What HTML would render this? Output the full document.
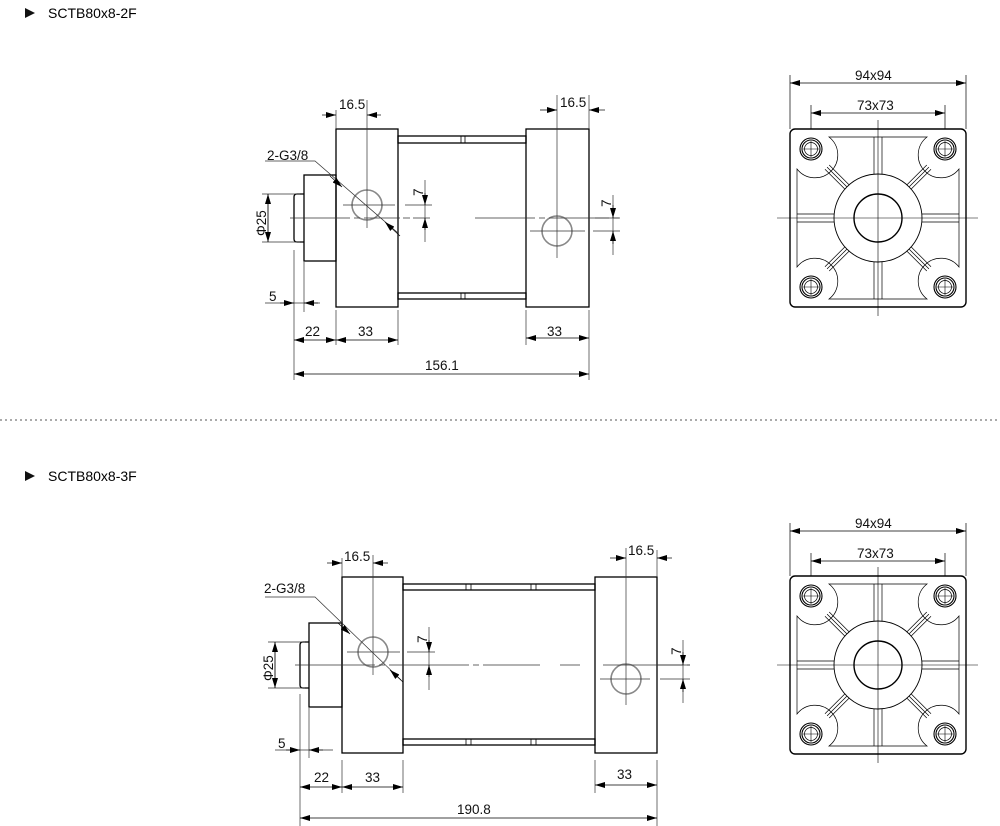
<!DOCTYPE html>
<html><head><meta charset="utf-8"><style>
html,body{margin:0;padding:0;background:#fff;}
svg{display:block;font-family:"Liberation Sans",sans-serif;}
</style></head><body>
<svg width="1000" height="826" viewBox="0 0 1000 826" xmlns="http://www.w3.org/2000/svg">
<defs>
<marker id="a" markerWidth="10" markerHeight="6" refX="10" refY="3" orient="auto-start-reverse" markerUnits="userSpaceOnUse"><path d="M0,0 L10,3 L0,6 Z" fill="#000"/></marker>
<g id="sq" fill="none" stroke="#000">
  <rect x="-88" y="-89" width="176" height="178" rx="5" stroke-width="1.4"/>
  <path d="M-49,-81 L49,-81 A22.8 22.8 0 1 0 81,-49 L81,49 A22.8 22.8 0 1 0 49,81 L-49,81 A22.8 22.8 0 1 0 -81,49 L-81,-49 A22.8 22.8 0 1 0 -49,-81 Z" stroke-width="0.7"/>
  <circle r="44" stroke-width="0.9"/>
  <circle r="24" stroke-width="1.4"/>
  <g stroke-width="0.7">
    <path d="M44,-4 L81,-4 M44,4 L81,4 M-44,-4 L-81,-4 M-44,4 L-81,4 M-4,44 L-4,81 M4,44 L4,81 M-4,-44 L-4,-81 M4,-44 L4,-81"/>
    <g transform="rotate(45)"><path d="M44,-3 L72,-3 M44,3 L72,3 M44,0 L72,0"/></g>
    <g transform="rotate(135)"><path d="M44,-3 L72,-3 M44,3 L72,3 M44,0 L72,0"/></g>
    <g transform="rotate(225)"><path d="M44,-3 L72,-3 M44,3 L72,3 M44,0 L72,0"/></g>
    <g transform="rotate(315)"><path d="M44,-3 L72,-3 M44,3 L72,3 M44,0 L72,0"/></g>
  </g>
  <g stroke-width="1.1">
    <circle cx="-67" cy="-69" r="11"/><circle cx="-67" cy="-69" r="9"/><circle cx="-67" cy="-69" r="6.5" stroke-width="0.7"/>
    <circle cx="67" cy="-69" r="11"/><circle cx="67" cy="-69" r="9"/><circle cx="67" cy="-69" r="6.5" stroke-width="0.7"/>
    <circle cx="-67" cy="69" r="11"/><circle cx="-67" cy="69" r="9"/><circle cx="-67" cy="69" r="6.5" stroke-width="0.7"/>
    <circle cx="67" cy="69" r="11"/><circle cx="67" cy="69" r="9"/><circle cx="67" cy="69" r="6.5" stroke-width="0.7"/>
  </g>
  <g stroke-width="0.6">
    <path d="M-101,0 L100,0 M0,-98 L0,98 M-8,0 L8,0"/>
    <path d="M-75,-69 L-59,-69 M-67,-77 L-67,-61 M59,-69 L75,-69 M67,-77 L67,-61 M-75,69 L-59,69 M-67,61 L-67,77 M59,69 L75,69 M67,61 L67,77"/>
  </g>
</g>
</defs>

<!-- titles -->
<path d="M25,8 L35,13 L25,18 Z" fill="#111"/>
<text x="48" y="18" font-size="14">SCTB80x8-2F</text>
<line x1="0" y1="420" x2="1000" y2="420" stroke="#555" stroke-dasharray="2,3"/>
<path d="M25,471 L35,476 L25,481 Z" fill="#111"/>
<text x="48" y="481" font-size="14">SCTB80x8-3F</text>

<!-- ===== Section 1 cylinder ===== -->
<g fill="none" stroke="#000" stroke-width="1.3">
  <rect x="336" y="129" width="62" height="178"/>
  <rect x="526" y="129" width="63" height="178"/>
  <rect x="398" y="136" width="128" height="7"/>
  <rect x="398" y="293" width="128" height="6"/>
  <path d="M461,136 V143 M465,136 V143 M461,293 V299 M465,293 V299" stroke-width="0.8"/>
  <rect x="304" y="175" width="32" height="86"/>
  <path d="M304,194 H297 Q294,194 294,197 V239 Q294,242 297,242 H304"/>
</g>
<g fill="none" stroke="#888" stroke-width="1.6">
  <circle cx="367" cy="205" r="15"/><circle cx="557" cy="231" r="15"/>
</g>
<g fill="none" stroke="#333" stroke-width="0.7">
  <path d="M290,218 H400 M403,218 H410 M413,218 H430 M475,218 H620" stroke-dasharray="60,4,6,4"/>
  <path d="M343,205 H395 M405,205 H432 M367,100 V228 M557,95 V258 M530,231 H585 M593,231 H620 M595,218 H620 M336,110 V129 M589,95 V129"/>
  <path d="M425,180 V242 M613,195 V255"/>
  <path d="M262,194 H300 M262,242 H300 M268,194 V242"/>
  <path d="M294,250 V380 M304,262 V312 M336,310 V345 M398,310 V345 M526,310 V345 M589,310 V380"/>
  <path d="M265,303 H320"/>
  <path d="M265,161 H315 L398,233"/>
</g>
<g stroke="#000" stroke-width="0.7" fill="none">
  <line x1="322" y1="115" x2="336" y2="115" marker-end="url(#a)"/>
  <line x1="381" y1="115" x2="367" y2="115" marker-end="url(#a)"/>
  <line x1="540" y1="110" x2="557" y2="110" marker-end="url(#a)"/>
  <line x1="605" y1="110" x2="589" y2="110" marker-end="url(#a)"/>
  <line x1="425" y1="193" x2="425" y2="205" marker-end="url(#a)"/>
  <line x1="425" y1="230" x2="425" y2="218" marker-end="url(#a)"/>
  <line x1="613" y1="205" x2="613" y2="218" marker-end="url(#a)"/>
  <line x1="613" y1="244" x2="613" y2="231" marker-end="url(#a)"/>
  <line x1="268" y1="194" x2="268" y2="242" marker-start="url(#a)" marker-end="url(#a)"/>
  <line x1="280" y1="303" x2="294" y2="303" marker-end="url(#a)"/>
  <line x1="318" y1="303" x2="304" y2="303" marker-end="url(#a)"/>
  <line x1="294" y1="340" x2="336" y2="340" marker-start="url(#a)" marker-end="url(#a)"/>
  <line x1="336" y1="340" x2="398" y2="340" marker-start="url(#a)" marker-end="url(#a)"/>
  <line x1="526" y1="338" x2="589" y2="338" marker-start="url(#a)" marker-end="url(#a)"/>
  <line x1="294" y1="374" x2="589" y2="374" marker-start="url(#a)" marker-end="url(#a)"/>
  <line x1="330" y1="176" x2="342" y2="187" marker-end="url(#a)"/>
  <line x1="400" y1="236" x2="385" y2="222" marker-end="url(#a)"/>
</g>
<g font-size="13.5" fill="#111">
  <text x="339" y="109">16.5</text>
  <text x="560" y="107">16.5</text>
  <text x="267" y="160">2-G3/8</text>
  <text x="0" y="0" transform="translate(423,196) rotate(-90)">7</text>
  <text x="0" y="0" transform="translate(611,207) rotate(-90)">7</text>
  <text x="0" y="0" transform="translate(266,236) rotate(-90)">Φ25</text>
  <text x="269" y="301">5</text>
  <text x="305" y="336">22</text>
  <text x="358" y="336">33</text>
  <text x="547" y="336">33</text>
  <text x="425" y="370">156.1</text>
</g>
<use href="#sq" x="878" y="218"/>
<g stroke="#000" stroke-width="0.7" fill="none">
  <path d="M790,75 V129 M966,75 V129 M811,105 V129 M945,105 V129"/>
  <line x1="790" y1="83" x2="966" y2="83" marker-start="url(#a)" marker-end="url(#a)"/>
  <line x1="811" y1="113" x2="945" y2="113" marker-start="url(#a)" marker-end="url(#a)"/>
</g>
<text x="855" y="80" font-size="13.5" fill="#111">94x94</text>
<text x="857" y="110" font-size="13.5" fill="#111">73x73</text>

<!-- ===== Section 2 cylinder ===== -->
<g fill="none" stroke="#000" stroke-width="1.3">
  <rect x="342" y="577" width="61" height="176"/>
  <rect x="595" y="577" width="62" height="176"/>
  <rect x="403" y="584" width="192" height="6"/>
  <rect x="403" y="739" width="192" height="6"/>
  <path d="M466,584 V590 M471,584 V590 M531,584 V590 M536,584 V590 M466,739 V745 M471,739 V745 M531,739 V745 M536,739 V745" stroke-width="0.8"/>
  <rect x="309" y="623" width="33" height="84"/>
  <path d="M309,642 H303 Q300,642 300,645 V685 Q300,688 303,688 H309"/>
</g>
<g fill="none" stroke="#888" stroke-width="1.6">
  <circle cx="373" cy="652" r="15"/><circle cx="626" cy="679" r="15"/>
</g>
<g fill="none" stroke="#333" stroke-width="0.7">
  <path d="M295,665 H540 M560,665 H580 M603,665 H690" stroke-dasharray="80,4,6,4"/>
  <path d="M347,652 H400 M407,652 H435 M373,555 V675 M626,548 V705 M600,679 H650 M660,679 H690 M657,665 H690 M342,558 V577 M657,550 V577"/>
  <path d="M429,627 V690 M683,640 V703"/>
  <path d="M268,642 H305 M268,688 H305 M275,642 V688"/>
  <path d="M300,694 V826 M309,708 V758 M342,760 V793 M403,760 V793 M595,760 V793 M657,760 V826"/>
  <path d="M275,750 H333"/>
  <path d="M265,597 H315 L401,680"/>
</g>
<g stroke="#000" stroke-width="0.7" fill="none">
  <line x1="327" y1="563" x2="342" y2="563" marker-end="url(#a)"/>
  <line x1="388" y1="563" x2="373" y2="563" marker-end="url(#a)"/>
  <line x1="610" y1="558" x2="626" y2="558" marker-end="url(#a)"/>
  <line x1="672" y1="558" x2="657" y2="558" marker-end="url(#a)"/>
  <line x1="429" y1="640" x2="429" y2="652" marker-end="url(#a)"/>
  <line x1="429" y1="677" x2="429" y2="665" marker-end="url(#a)"/>
  <line x1="683" y1="652" x2="683" y2="665" marker-end="url(#a)"/>
  <line x1="683" y1="692" x2="683" y2="679" marker-end="url(#a)"/>
  <line x1="275" y1="642" x2="275" y2="688" marker-start="url(#a)" marker-end="url(#a)"/>
  <line x1="286" y1="750" x2="300" y2="750" marker-end="url(#a)"/>
  <line x1="323" y1="750" x2="309" y2="750" marker-end="url(#a)"/>
  <line x1="300" y1="787" x2="342" y2="787" marker-start="url(#a)" marker-end="url(#a)"/>
  <line x1="342" y1="787" x2="403" y2="787" marker-start="url(#a)" marker-end="url(#a)"/>
  <line x1="595" y1="785" x2="657" y2="785" marker-start="url(#a)" marker-end="url(#a)"/>
  <line x1="300" y1="818" x2="657" y2="818" marker-start="url(#a)" marker-end="url(#a)"/>
  <line x1="338" y1="623" x2="350" y2="634" marker-end="url(#a)"/>
  <line x1="403" y1="682" x2="390" y2="670" marker-end="url(#a)"/>
</g>
<g font-size="13.5" fill="#111">
  <text x="344" y="561">16.5</text>
  <text x="628" y="555">16.5</text>
  <text x="264" y="593">2-G3/8</text>
  <text x="0" y="0" transform="translate(427,643) rotate(-90)">7</text>
  <text x="0" y="0" transform="translate(681,655) rotate(-90)">7</text>
  <text x="0" y="0" transform="translate(273,681) rotate(-90)">Φ25</text>
  <text x="278" y="748">5</text>
  <text x="314" y="782">22</text>
  <text x="365" y="782">33</text>
  <text x="617" y="779">33</text>
  <text x="457" y="814">190.8</text>
</g>
<use href="#sq" x="878" y="665"/>
<g stroke="#000" stroke-width="0.7" fill="none">
  <path d="M790,523 V576 M966,523 V576 M811,553 V576 M945,553 V576"/>
  <line x1="790" y1="531" x2="966" y2="531" marker-start="url(#a)" marker-end="url(#a)"/>
  <line x1="811" y1="561" x2="945" y2="561" marker-start="url(#a)" marker-end="url(#a)"/>
</g>
<text x="855" y="528" font-size="13.5" fill="#111">94x94</text>
<text x="857" y="558" font-size="13.5" fill="#111">73x73</text>
</svg>
</body></html>
